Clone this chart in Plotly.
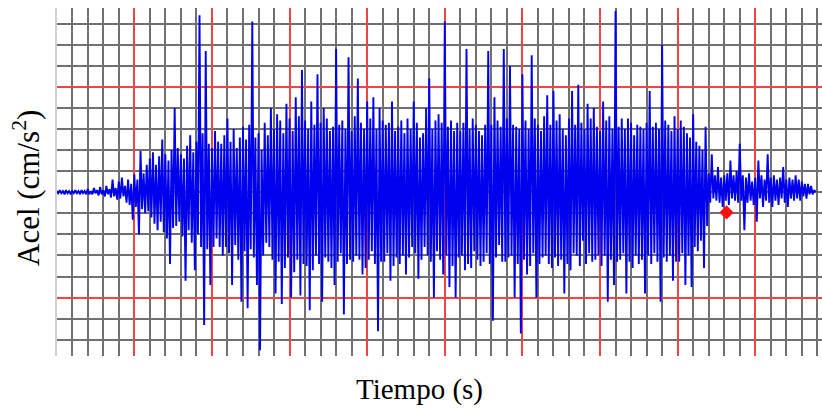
import plotly.graph_objects as go

# Sample interval of the accelerogram (s)
DT = 0.1

# Acceleration values (one value per 0.1 s sample)
acc = [
    # 0-2 s (pre-event)
    0.05, -0.05, 0.1, -0.05, 0.05, -0.1, 0.1, -0.05, 0.05, -0.1,
    0.05, -0.05, 0.1, -0.05, 0.05, -0.1, 0.1, -0.05, 0.05, -0.1,
    # 2-4 s
    0.15, -0.1, 0.05, -0.1, 0.2, -0.05, 0.1, -0.15, 0.25, -0.1,
    0.1, -0.2, 0.3, -0.1, 0.15, -0.25, 0.6, -0.2, 0.2, -0.35,
    # 4-6 s
    0.5, -0.3, 0.7, -0.2, 0.3, -0.5, 0.6, -0.6, 0.4, -1.3,
    0.85, -0.7, 0.6, -2.0, 1.95, -0.8, 0.9, -1.0, 1.3, -0.9,
    # 6-8 s
    1.6, -1.2, 1.9, -1.5, 1.3, -1.8, 1.7, -1.4, 2.5, -1.9,
    1.8, -2.2, 1.5, -3.4, 2.0, -1.7, 4.0, -1.6, 2.1, -1.4,
    # 8-10 s
    1.8, -2.1, 1.6, -4.2, 2.2, -1.8, 2.7, -2.4, 1.9, -3.7,
    2.4, -2.0, 8.4, -2.6, 2.8, -6.3, 6.7, -2.7, 2.3, -4.4,
    # 10-12 s
    2.1, -2.6, 2.9, -2.2, 2.4, -2.6, 2.3, -3.0, 2.7, -2.6,
    3.5, -2.9, 2.4, -4.4, 3.0, -2.5, 2.1, -3.2, 2.6, -5.2,
    # 12-14 s
    3.1, -2.8, 2.5, -5.5, 3.2, -2.7, 8.1, -3.1, 2.6, -4.4,
    2.8, -7.5, 2.0, -3.0, 3.3, -2.4, 2.7, -2.6, 4.0, -3.2,
    # 14-16 s
    3.0, -4.8, 3.7, -3.3, 3.4, -5.3, 2.8, -3.6, 4.2, -3.1,
    3.5, -5.0, 2.9, -3.8, 4.5, -3.2, 3.6, -4.9, 5.8, -3.4,
    # 16-18 s
    3.4, -3.5, 3.0, -5.6, 4.3, -3.7, 3.2, -3.0, 5.6, -3.4,
    3.3, -5.2, 4.0, -3.1, 3.5, -3.3, 2.9, -3.6, 3.1, -4.4,
    # 18-20 s
    6.8, -3.3, 3.2, -2.9, 3.4, -5.8, 3.0, -3.4, 6.4, -3.2,
    2.9, -3.3, 3.6, -3.0, 5.4, -3.2, 3.3, -3.9, 3.0, -3.6,
    # 20-22 s
    4.3, -3.2, 3.5, -2.8, 4.5, -3.4, 3.0, -6.6, 4.0, -3.3,
    3.4, -3.3, 3.2, -2.9, 3.3, -4.2, 4.3, -3.5, 2.9, -3.1,
    # 22-24 s
    3.1, -3.4, 3.4, -3.0, 2.8, -3.9, 3.5, -3.1, 3.0, -2.6,
    4.3, -2.9, 3.3, -4.1, 2.6, -3.2, 2.8, -2.6, 4.0, -3.0,
    # 24-26 s
    5.4, -3.3, 3.0, -5.0, 3.4, -2.8, 3.7, -3.2, 3.3, -3.9,
    8.1, -3.0, 3.1, -4.5, 3.4, -3.5, 2.9, -5.0, 3.3, -3.1,
    # 26-28 s
    2.9, -3.0, 3.3, -3.7, 6.8, -3.4, 3.0, -3.6, 3.5, -2.8,
    3.2, -3.2, 2.9, -3.5, 2.7, -3.3, 3.2, -2.9, 6.7, -3.4,
    # 28-30 s
    3.2, -6.1, 4.5, -3.1, 3.4, -2.5, 3.1, -3.3, 6.8, -3.3,
    3.5, -3.1, 6.0, -3.0, 3.2, -5.0, 3.1, -3.4, 3.0, -6.7,
    # 30-32 s
    5.6, -3.2, 3.4, -3.9, 3.0, -3.5, 6.5, -2.9, 3.5, -5.0,
    3.2, -3.4, 2.9, -3.1, 3.6, -3.0, 4.6, -3.4, 3.2, -3.6,
    # 32-34 s
    4.8, -3.1, 3.4, -3.5, 3.7, -3.2, 3.0, -4.8, 2.7, -3.4,
    3.5, -3.7, 4.8, -2.9, 3.2, -3.0, 5.1, -3.5, 3.3, -2.3,
    # 34-36 s
    3.0, -3.4, 4.2, -2.9, 3.5, -3.3, 4.0, -3.2, 3.1, -3.0,
    2.9, -3.5, 4.3, -3.0, 3.4, -5.2, 3.6, -3.2, 3.0, -4.4,
    # 36-38 s
    8.6, -3.3, 3.1, -3.2, 3.5, -2.9, 3.0, -4.8, 3.5, -3.3,
    3.3, -3.6, 2.7, -3.0, 3.2, -3.4, 3.1, -3.2, 3.0, -4.8,
    # 38-40 s
    3.3, -3.0, 4.8, -3.4, 3.1, -2.9, 3.3, -3.3, 3.0, -5.2,
    7.0, -3.1, 3.4, -3.3, 3.2, -3.0, 2.9, -4.2, 3.6, -3.3,
    # 40-42 s
    3.0, -3.3, 3.4, -2.9, 3.1, -4.4, 2.8, -3.0, 2.6, -4.5,
    3.7, -2.6, 2.4, -2.8, 2.2, -2.3, 2.0, -3.6, 3.1, -1.6,
    # 42-44 s (coda)
    0.9, -0.5, 1.8, -0.3, 0.8, -0.4, 1.2, -0.5, 0.7, -0.7,
    0.8, -0.4, 0.9, -0.6, 1.5, -0.3, 0.8, -0.4, 1.0, -0.5,
    # 44-46 s
    2.3, -0.4, 0.8, -1.8, 0.7, -0.5, 0.9, -0.4, 0.5, -0.6,
    0.7, -1.4, 1.5, -0.3, 0.8, -0.7, 0.6, -0.4, 1.8, -0.5,
    # 46-48 s
    0.7, -0.7, 0.8, -0.4, 0.6, -0.6, 0.7, -0.3, 1.2, -0.5,
    0.6, -0.7, 0.7, -0.3, 0.6, -0.4, 0.8, -0.3, 0.6, -0.4,
    # 48-49 s
    0.5, -0.2, 0.4, -0.3, 0.4, -0.1, 0.3, -0.1, 0.1, 0.0,
]
time_s = [i * DT for i in range(len(acc))]

# Highlighted point (red diamond)
marker_t = [43.15]
marker_acc = [-0.96]

x_label = "Tiempo (s)"
y_label = "Acel (cm/s<sup>2</sup>)"

GRAY = "#707070"
RED = "#ee4545"
FONT = "Liberation Serif, Times New Roman, serif"

fig = go.Figure()
fig.add_trace(go.Scatter(
    x=time_s, y=acc, mode="lines",
    line=dict(color="#0000ee", width=1.9),
    hoverinfo="skip", showlegend=False,
))
fig.add_trace(go.Scatter(
    x=marker_t, y=marker_acc, mode="markers",
    marker=dict(symbol="diamond", size=11, color="#ff1010"),
    hoverinfo="skip", showlegend=False,
))

fig.update_xaxes(
    range=[0.02, 49.3],
    tick0=0, dtick=5,
    showgrid=True, gridcolor=RED, gridwidth=1.6,
    minor=dict(tick0=0, dtick=1, showgrid=True, gridcolor=GRAY, gridwidth=1.5, ticks=""),
    showticklabels=False, ticks="", zeroline=False, showline=False,
)
fig.update_yaxes(
    range=[-7.77, 8.74],
    tick0=5, dtick=10,
    showgrid=True, gridcolor=RED, gridwidth=1.6,
    minor=dict(tick0=0, dtick=1, showgrid=True, gridcolor=GRAY, gridwidth=1.5, ticks=""),
    showticklabels=False, ticks="", zeroline=False,
    showline=True, linecolor="#cfcfcf", linewidth=2,
)

fig.add_annotation(
    text=x_label, xref="paper", yref="paper",
    x=(419 - 57) / 765, y=(356 - 389) / 348,
    xanchor="center", yanchor="middle", showarrow=False,
    font=dict(family=FONT, size=29, color="black"),
)
fig.add_annotation(
    text=y_label, xref="paper", yref="paper",
    x=(27 - 57) / 765, y=(356 - 188) / 348,
    xanchor="center", yanchor="middle", showarrow=False, textangle=-90,
    font=dict(family=FONT, size=31, color="black"),
)

fig.update_layout(
    width=822, height=409,
    margin=dict(l=57, r=0, t=8, b=53),
    plot_bgcolor="white", paper_bgcolor="white",
)

fig.write_html("out.html")
